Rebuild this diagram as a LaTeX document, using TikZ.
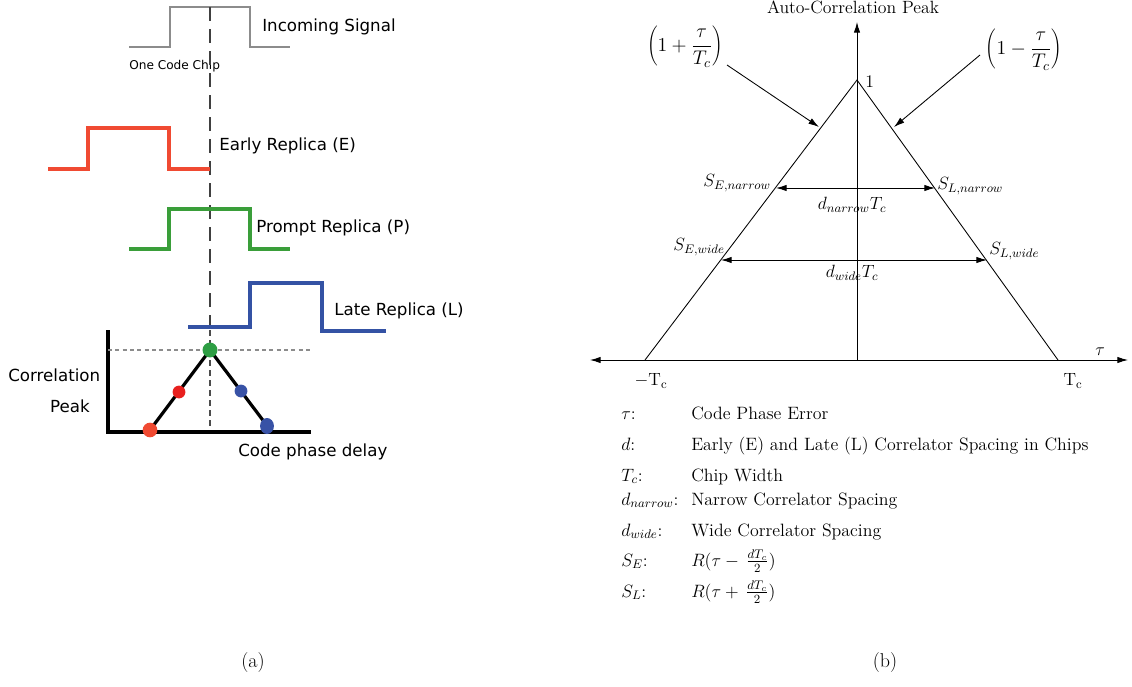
\RequirePackage{fix-cm}
\documentclass[tikz,border=0pt]{standalone}
\usepackage{fontspec}
\usetikzlibrary{arrows.meta}
\newfontfamily\djv{DejaVu Sans}
\definecolor{redE}{HTML}{F04A32}
\definecolor{greenP}{HTML}{3A9E3A}
\definecolor{blueL}{HTML}{3452A4}
\definecolor{dotred}{HTML}{E8201E}
\definecolor{dotgreen}{HTML}{2E9E44}
\definecolor{dotblue}{HTML}{3852A6}
\begin{document}
\begin{tikzpicture}[x=0.75pt,y=-0.75pt,
  lab/.style={font=\djv\fontsize{12.5}{15}\selectfont, inner sep=0pt},
  rlab/.style={font=\fontsize{13.3}{16}\selectfont, inner sep=0pt},
  flab/.style={font=\fontsize{14.8}{18}\selectfont, inner sep=0pt},
  sig/.style={line width=2.6pt},
  arr/.style={-{Latex[length=8pt,width=4.8pt]}, line width=0.65pt},
  darr/.style={{Latex[length=8pt,width=4.8pt]}-{Latex[length=8pt,width=4.8pt]}, line width=0.65pt},
  leg/.style={font=\fontsize{13.4}{16}\selectfont, inner sep=0pt, anchor=base west}
]
\useasboundingbox (0,0) rectangle (1132,686);
% ---------------- (a) ----------------
\draw[black!45, line width=1.1pt] (129,47) -- (170,47) -- (170,7) -- (250,7) -- (250,47) -- (290,47);
\node[lab, anchor=west] (inc) at (262,27) {Incoming Signal};
\node[font=\djv\fontsize{9.1}{11}\selectfont, anchor=west, inner sep=0pt] (chip) at (129,66) {One Code Chip};
\draw[black!75, line width=1.1pt, dash pattern=on 10.5pt off 6pt] (210,7) -- (210,330);
\draw[black!70, line width=0.8pt, dash pattern=on 4.5pt off 3pt] (210,330) -- (210,432);
\draw[redE, sig] (48,169) -- (88,169) -- (88,128) -- (169,128) -- (169,169) -- (210,169);
\node[lab, anchor=west] (early) at (219,146) {Early Replica (E)};
\draw[greenP, sig] (129,249) -- (169,249) -- (169,209) -- (250,209) -- (250,249) -- (290,249);
\node[lab, anchor=west] (prompt) at (256,228) {Prompt Replica (P)};
\draw[blueL, sig] (188,327) -- (250,327) -- (250,283) -- (322,283) -- (322,331) -- (386,331);
\node[lab, anchor=west] (late) at (334,311) {Late Replica (L)};
\draw[black, line width=2.5pt] (108,330) -- (108,432) -- (311,432);
\draw[black!45, line width=0.9pt, dash pattern=on 3pt off 2.5pt] (108,350) -- (311,350);
\coordinate (pk) at (210,350);
\coordinate (el) at (150,430);
\coordinate (lt) at (268,427);
\draw[black, line width=2.4pt] (el) -- (pk) -- (lt);
\fill[dotgreen] (pk) circle (5.6pt);
\fill[dotred] (179,392) circle (4.8pt);
\fill[redE] (el) circle (5.5pt);
\fill[dotblue] (241,391) circle (4.8pt);
\fill[dotblue] (267,426) ellipse (5.2pt and 6pt);
\node[lab, anchor=west] (corr) at (8,375) {Correlation};
\node[lab] (peak) at (70,406) {Peak};
\node[lab, anchor=west] (cpd) at (238,452) {Code phase delay};
\node[font=\fontsize{15}{18}\selectfont, inner sep=0pt] (capa) at (253,663) {(a)};
% ---------------- (b) ----------------
\coordinate (O) at (857,360);
\coordinate (top) at (857,22);
\coordinate (Lx) at (590,360);
\coordinate (Rx) at (1128,360);
\coordinate (P) at (857,80);
\coordinate (A) at (645,360);
\coordinate (B) at (1058,360);
\draw[arr] (O) -- (top);
\draw[arr] (O) -- (Lx);
\draw[arr] (O) -- (Rx);
\draw[line width=0.65pt] (A) -- (P) -- (B);
\node[rlab] (acp) at (853,7) {Auto-Correlation Peak};
\node[rlab, anchor=west] (one) at (865,82) {$1$};
\node[flab] (f1) at (685,47) {$\displaystyle\left(1+\frac{\tau}{T_c}\right)$};
\node[flab] (f2) at (1024,50) {$\displaystyle\left(1-\frac{\tau}{T_c}\right)$};
\coordinate (f1s) at (727,65);
\coordinate (f1e) at (819,127);
\coordinate (f2s) at (980,55);
\coordinate (f2e) at (894,127);
\draw[arr] (f1s) -- (f1e);
\draw[arr] (f2s) -- (f2e);
\coordinate (nl) at (776,188);
\coordinate (nr) at (935,188);
\coordinate (wl) at (721,260);
\coordinate (wr) at (987,260);
\draw[darr] (nl) -- (nr);
\draw[darr] (wl) -- (wr);
\node[rlab, anchor=east] (sen) at (771,183) {$S_{E,narrow}$};
\node[rlab, anchor=west] (sln) at (937,186) {$S_{L,narrow}$};
\node[rlab] (dn) at (852,205) {$d_{narrow}T_c$};
\node[rlab, anchor=east] (sew) at (725,247) {$S_{E,wide}$};
\node[rlab, anchor=west] (slw) at (989,251) {$S_{L,wide}$};
\node[rlab] (dw) at (852,273) {$d_{wide}T_c$};
\node[rlab] (mtc) at (651,381) {$-\mathrm{T_c}$};
\node[rlab] (tc) at (1073,381) {$\mathrm{T_c}$};
\node[rlab] (tau) at (1100,352) {$\tau$};
% legend
\node[leg] (s1) at (621,419) {$\tau$:};
\node[leg] (t1) at (691,419) {Code Phase Error};
\node[leg] (s2) at (621,450) {$d$:};
\node[leg] (t2) at (691,450) {Early (E) and Late (L) Correlator Spacing in Chips};
\node[leg] (s3) at (621,481) {$T_c$:};
\node[leg] (t3) at (691,481) {Chip Width};
\node[leg] (s4) at (621,505) {$d_{narrow}$:};
\node[leg] (t4) at (691,505) {Narrow Correlator Spacing};
\node[leg] (s5) at (621,536) {$d_{wide}$:};
\node[leg] (t5) at (691,536) {Wide Correlator Spacing};
\node[leg] (s6) at (621,566) {$S_E$:};
\node[leg] (t6) at (691,566) {$R(\tau-\,\frac{dT_c}{2})$};
\node[leg] (s7) at (621,597) {$S_L$:};
\node[leg] (t7) at (691,597) {$R(\tau+\,\frac{dT_c}{2})$};
\node[font=\fontsize{15}{18}\selectfont, inner sep=0pt] (capb) at (885,663) {(b)};
\end{tikzpicture}
\end{document}
